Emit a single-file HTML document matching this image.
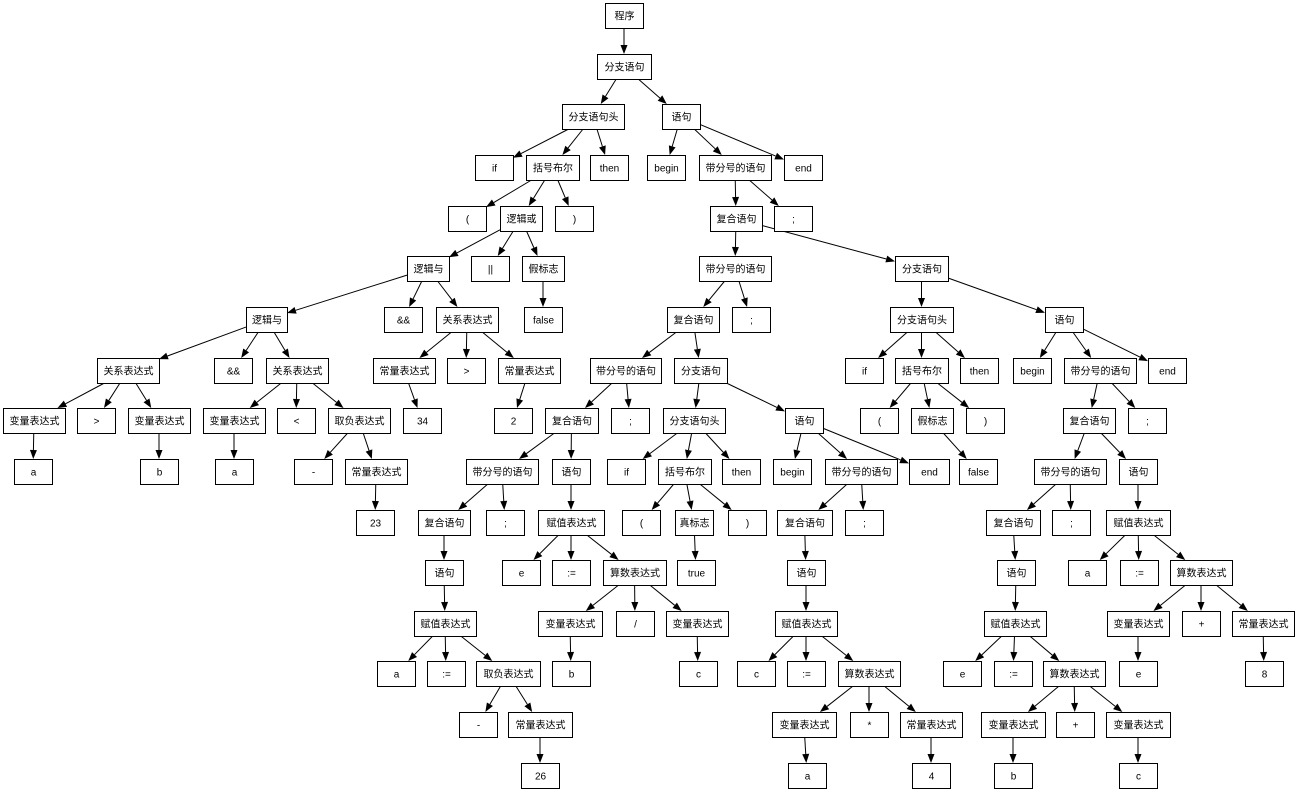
<!DOCTYPE html>
<html><head><meta charset="utf-8"><style>
html,body{margin:0;padding:0;background:#fff;width:1298px;height:793px;overflow:hidden}
text{font-family:"Liberation Sans","Noto Sans CJK SC","WenQuanYi Zen Hei",sans-serif;font-size:10px;fill:#000}
</style></head><body>
<svg id="s" width="1298" height="793" xmlns="http://www.w3.org/2000/svg"></svg>
<script>
(function(){
var N=[
["程序",0,605,643,-1],["分支语句",1,597,651,0],["分支语句头",2,562,624,1],["语句",2,662,700,1],
["if",3,475,513,2],["括号布尔",3,526,579,2],["then",3,590,628,2],["begin",3,647,685,3],["带分号的语句",3,699,771,3],["end",3,784,822,3],
["(",4,448,486,5],["逻辑或",4,500,542,5],[")",4,555,593,5],["复合语句",4,710,762,8],[";",4,774,812,8],
["逻辑与",5,407,449,11],["||",5,471,509,11],["假标志",5,522,564,11],["带分号的语句",5,699,771,13],["分支语句",5,895,948,13],
["逻辑与",6,246,287,15],["&&",6,384,422,15],["关系表达式",6,436,498,15],["false",6,524,562,17],["复合语句",6,667,719,18],[";",6,732,770,18],["分支语句头",6,890,953,19],["语句",6,1045,1083,19],
["关系表达式",7,97,159,20],["&&",7,214,252,20],["关系表达式",7,266,328,20],["常量表达式",7,373,435,22],[">",7,447,485,22],["常量表达式",7,498,560,22],["带分号的语句",7,590,661,24],["分支语句",7,674,727,24],["if",7,845,883,26],["括号布尔",7,895,948,26],["then",7,960,998,26],["begin",7,1013,1051,27],["带分号的语句",7,1064,1136,27],["end",7,1148,1186,27],
["变量表达式",8,3,65,28],[">",8,77,115,28],["变量表达式",8,128,190,28],["变量表达式",8,203,265,30],["<",8,277,315,30],["取负表达式",8,328,390,30],["34",8,403,441,31],["2",8,494,532,33],["复合语句",8,545,598,34],[";",8,611,649,34],["分支语句头",8,663,725,35],["语句",8,785,823,35],["(",8,860,898,37],["假标志",8,911,953,37],[")",8,966,1004,37],["复合语句",8,1063,1115,40],[";",8,1128,1166,40],
["a",9,14,52,42],["b",9,140,178,44],["a",9,215,253,45],["-",9,294,332,47],["常量表达式",9,345,407,47],["带分号的语句",9,466,538,50],["语句",9,552,590,50],["if",9,607,645,52],["括号布尔",9,658,711,52],["then",9,722,760,52],["begin",9,773,811,53],["带分号的语句",9,825,897,53],["end",9,909,949,53],["false",9,959,997,55],["带分号的语句",9,1034,1106,57],["语句",9,1119,1157,57],
["23",10,356,394,63],["复合语句",10,418,470,64],[";",10,486,524,64],["赋值表达式",10,538,604,65],["(",10,622,660,67],["真标志",10,675,713,67],[")",10,728,766,67],["复合语句",10,777,832,70],[";",10,845,883,70],["复合语句",10,986,1040,73],[";",10,1052,1090,73],["赋值表达式",10,1106,1170,74],
["语句",11,425,463,76],["e",11,502,540,78],[":=",11,552,590,78],["算数表达式",11,603,666,78],["true",11,677,715,80],["语句",11,787,825,82],["语句",11,997,1035,84],["a",11,1068,1106,86],[":=",11,1120,1158,86],["算数表达式",11,1170,1232,86],
["赋值表达式",12,414,476,87],["变量表达式",12,538,602,90],["/",12,616,654,90],["变量表达式",12,666,728,90],["赋值表达式",12,775,837,92],["赋值表达式",12,984,1046,93],["变量表达式",12,1107,1169,96],["+",12,1182,1220,96],["常量表达式",12,1232,1294,96],
["a",13,377,415,97],[":=",13,427,465,97],["取负表达式",13,476,540,97],["b",13,552,590,98],["c",13,679,717,100],["c",13,737,775,101],[":=",13,787,825,101],["算数表达式",13,838,900,101],["e",13,943,981,102],[":=",13,994,1032,102],["算数表达式",13,1043,1105,102],["e",13,1119,1157,103],["8",13,1245,1283,105],
["-",14,459,497,108],["常量表达式",14,508,572,108],["变量表达式",14,772,836,113],["*",14,850,888,113],["常量表达式",14,900,962,113],["变量表达式",14,981,1045,116],["+",14,1056,1094,116],["变量表达式",14,1106,1170,116],
["26",15,521,559,120],["a",15,788,826,121],["4",15,912,950,123],["b",15,994,1032,124],["c",15,1119,1157,126]
];
var H=25;function rowTop(r){return Math.round(3+r*50.65);}
var out=[];
function clip(cx,cy,w2,h2,dx,dy){var t=Math.min(dx?Math.abs(w2/dx):1e9,dy?Math.abs(h2/dy):1e9);return [cx+dx*t,cy+dy*t];}
N.forEach(function(n){
 if(n[4]<0)return;var p=N[n[4]];
 var px=(p[2]+p[3])/2,py=rowTop(p[1])+H/2,cx=(n[2]+n[3])/2,cy=rowTop(n[1])+H/2;
 var dx=cx-px,dy=cy-py;
 var a=clip(px,py,(p[3]-p[2])/2,H/2,dx,dy),b=clip(cx,cy,(n[3]-n[2])/2,H/2,-dx,-dy);
 var L=Math.hypot(b[0]-a[0],b[1]-a[1]),ux=(b[0]-a[0])/L,uy=(b[1]-a[1])/L;
 var bx=b[0]-ux*9,by=b[1]-uy*9;
 out.push('<line x1="'+a[0]+'" y1="'+a[1]+'" x2="'+bx+'" y2="'+by+'" stroke="#000" stroke-width="1"/>');
 out.push('<polygon points="'+b[0]+','+b[1]+' '+(bx-uy*3.5)+','+(by+ux*3.5)+' '+(bx+uy*3.5)+','+(by-ux*3.5)+'" fill="#000"/>');
});
N.forEach(function(n){
 var y=rowTop(n[1]);
 out.push('<rect x="'+(n[2]+0.5)+'" y="'+(y+0.5)+'" width="'+(n[3]-n[2])+'" height="'+H+'" fill="#fff" stroke="#000" stroke-width="1"/>');
 out.push('<text x="'+((n[2]+n[3])/2+0.5)+'" y="'+(y+16.5)+'" text-anchor="middle">'+n[0].replace(/&/g,'&amp;').replace(/</g,'&lt;').replace(/>/g,'&gt;')+'</text>');
});
document.getElementById('s').innerHTML=out.join('');
})();
</script>
</body></html>
